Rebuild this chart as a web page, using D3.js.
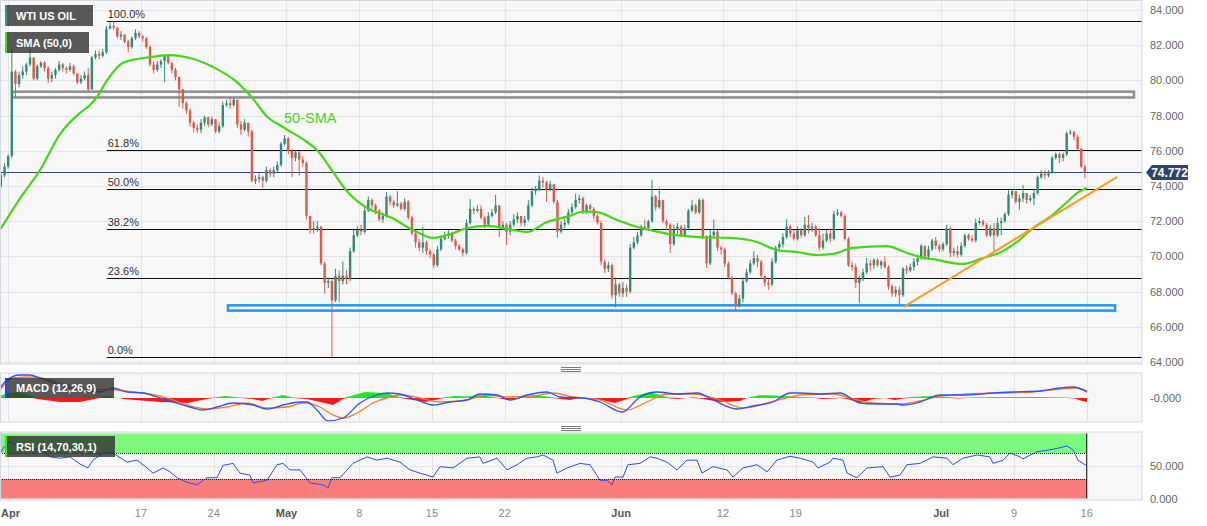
<!DOCTYPE html>
<html>
<head>
<meta charset="utf-8">
<title>WTI US OIL</title>
<script src="https://cdn.jsdelivr.net/npm/d3@7/dist/d3.min.js"></script>
<style>
  html, body { margin: 0; padding: 0; background: #ffffff; }
  svg { display: block; font-family: Arial, "Liberation Sans", Helvetica, sans-serif; }
</style>
</head>
<body>
<svg id="chart" width="1207" height="526"></svg>
<script>
// ================= DATA =================
const symbolName = "WTI US OIL";
const smaTitle = "SMA (50,0)";
const macdTitle = "MACD (12,26,9)";
const rsiTitle = "RSI (14,70,30,1)";
const smaLabel = "50-SMA";

// trading-day index (0 = Mon 3 Apr 2023, weekends removed)
const tickDays   = [-0.15, 9, 14, 19, 24, 29, 34, 42, 49, 54, 64, 69, 74];
const tickLabels = ["Apr", "17", "24", "May", "8", "15", "22", "Jun", "12", "19", "Jul", "9", "16"];
const monthLabels = ["Apr", "May", "Jun", "Jul"];

const priceTicks = [64, 66, 68, 70, 72, 74, 76, 78, 80, 82, 84];

// 6-hour candles, 4 per trading day, starting on day -1
const candlesPerDay = 4;
const firstCandleDay = -1;
const firstOpen = 73.7;
const closes = [
  74.0,74.6,75.1,75.7,
  80.5,79.8,80.3,80.5,  80.9,81.3,80.1,80.8,  81.0,80.7,80.1,80.3,  80.6,80.9,80.7,80.6,
  80.8,80.4,79.9,80.1,  80.3,79.5,81.3,81.5,  81.4,81.6,82.95,83.1, 83.0,82.5,82.6,82.2,  81.9,82.4,82.7,82.5,
  82.4,81.9,80.9,80.6,  80.9,81.1,81.4,81.0,  80.6,80.2,79.5,78.7,  78.3,77.6,77.3,77.2,  77.6,77.9,77.5,77.8,
  77.1,77.4,78.6,78.7,  78.6,78.9,77.5,77.2,  77.6,77.1,74.3,74.4,  74.5,74.3,74.9,74.7,  74.9,75.2,76.4,76.7,
  76.0,75.6,75.9,75.5,  75.3,72.3,71.5,71.6,  71.7,69.6,68.5,68.6,  67.5,68.9,68.6,68.9,  68.7,70.3,71.2,71.5,
  71.4,72.6,73.2,72.9,  72.6,72.1,72.3,73.4,  73.1,72.9,73.0,72.7,  73.1,72.2,71.3,70.8,  70.5,70.8,70.3,70.1,
  69.5,70.4,71.0,71.2,  71.3,70.9,70.6,70.4,  70.2,71.9,72.7,72.6,  72.7,72.2,71.8,72.3,  72.5,72.9,71.6,71.8,
  71.4,71.8,72.1,72.3,  71.9,72.1,72.9,73.7,  73.8,74.3,74.2,73.8,  74.1,73.1,71.4,71.8,  71.9,72.5,72.8,73.2,
  73.3,72.5,72.9,72.7,  72.3,71.9,69.7,69.3,  69.5,67.8,68.4,67.9,  68.2,68.0,70.5,70.8,  71.2,71.7,71.6,72.0,
  73.4,72.8,73.2,72.0,  71.8,70.7,71.5,71.7,  71.2,71.6,72.6,72.9,  72.5,73.2,71.1,69.6,  71.2,71.4,70.5,70.4,
  69.6,68.8,67.9,67.2,  67.6,68.6,69.1,69.6,  69.9,69.7,68.9,68.5,  68.4,69.7,70.5,70.7,  71.1,71.7,71.3,71.0,
  71.5,71.2,71.8,71.6,  71.7,71.2,70.5,70.9,  71.3,71.0,72.4,72.5,  72.3,71.0,69.5,69.4,  68.5,68.7,69.1,69.6,
  69.5,69.8,69.5,69.7,  69.4,68.3,67.9,68.1,  67.8,69.3,69.2,69.4,  69.7,69.9,70.6,70.0,  70.4,70.9,70.6,70.4,
  70.7,71.6,70.2,70.3,  70.1,70.6,71.2,71.0,  70.9,71.9,72.0,71.8,  71.2,71.6,71.2,71.9,  72.0,72.4,73.5,73.7,
  73.1,73.3,73.6,73.2,  73.3,73.6,74.5,74.7,  74.6,74.8,75.6,75.8,  75.6,75.8,77.0,77.05, 76.8,76.1,75.1,74.772
];
const highs = [
  74.2,74.8,75.3,75.8,
  81.8,80.6,80.5,80.8,  81.0,81.8,81.3,80.9,  81.1,81.1,80.8,80.5,  80.7,81.1,81.0,80.8,
  81.0,80.9,80.4,80.3,  80.5,80.7,81.4,81.7,  81.7,81.8,83.1,83.3,  83.35,83.05,82.8,82.6, 82.3,82.5,82.9,82.8,
  82.6,82.45,82.0,81.1, 81.1,81.2,81.5,81.5,  81.0,80.7,80.2,79.5,  78.8,78.4,77.7,77.5,  77.8,78.0,77.95,77.95,
  77.8,77.6,78.8,78.9,  79.05,79.0,78.9,77.7, 77.8,77.6,77.2,74.6,  74.7,74.6,75.1,75.0,  75.1,75.4,76.5,76.9,
  76.8,76.1,76.0,76.0,  75.7,75.4,72.3,72.0,  72.0,71.7,69.7,68.8,  68.7,69.3,69.2,69.7,  69.2,70.5,71.5,71.7,
  71.8,72.8,73.4,73.3,  73.0,72.7,72.5,73.65, 73.5,73.2,73.7,73.1,  73.3,73.2,72.3,71.4,  71.0,71.7,70.9,70.4,
  70.2,70.6,71.2,71.4,  71.5,71.4,71.0,70.7,  70.5,72.1,73.25,72.8, 72.9,72.9,72.3,72.5,  72.7,73.5,72.9,72.0,
  71.9,72.0,72.4,72.5,  72.3,72.3,73.2,73.9,  74.0,74.6,74.5,74.3,  74.3,74.1,73.2,72.0,  72.1,72.7,73.0,73.55,
  73.5,73.4,73.0,73.0,  72.8,72.4,72.0,69.8,  69.7,69.6,68.8,68.5,  68.55,68.4,70.7,71.1, 71.4,71.8,72.1,72.1,
  74.35,73.5,73.9,73.2, 72.1,71.9,71.8,71.9,  71.8,71.8,72.7,73.2,  73.0,73.3,73.3,71.2,  71.5,72.1,71.5,70.6,
  70.5,69.7,68.9,68.0,  67.8,68.8,69.3,69.8,  70.3,70.1,69.8,68.9,  68.7,69.9,70.6,70.9,  71.3,72.1,71.8,71.5,
  71.7,71.6,72.25,72.35, 71.9,71.8,71.6,71.3, 71.5,71.6,72.6,72.7,  72.6,72.4,71.1,69.7,  69.6,68.9,69.3,69.9,
  69.8,69.9,69.9,69.8,  70.0,69.5,68.4,68.3,  68.3,69.4,69.5,69.6,  69.9,70.1,70.7,70.6,  70.6,71.0,71.1,70.7,
  70.8,71.8,71.7,70.5,  70.6,70.8,71.3,71.3,  71.2,72.15,72.2,72.1, 71.9,71.8,71.9,72.2,  72.2,72.5,73.75,73.85,
  73.7,73.5,74.05,73.6, 73.5,73.8,74.6,74.9,  74.9,74.9,75.7,75.9,  75.9,75.9,77.1,77.2,  77.15,76.9,76.2,75.2
];
const lows = [
  73.6,73.9,74.5,75.0,
  75.6,79.05,79.6,80.1, 80.3,80.8,80.0,80.0,  80.7,80.5,79.85,79.9, 80.1,80.5,80.5,80.4,
  80.5,80.3,79.8,79.8,  80.0,79.4,79.45,81.2, 81.2,81.3,81.5,82.9,  82.85,82.4,82.3,82.1, 81.6,81.8,82.3,82.4,
  82.2,81.8,80.8,80.4,  80.5,80.7,79.9,80.9,  80.4,80.0,78.5,78.4,  78.1,77.4,77.05,77.0, 77.0,77.4,77.35,77.4,
  77.0,77.0,77.3,78.5,  78.4,78.5,77.3,76.9,  77.1,76.8,74.2,74.1,  74.2,73.9,74.2,74.5,  74.5,74.8,75.1,76.3,
  75.8,74.5,75.4,74.6,  75.1,72.1,71.3,71.3,  71.4,69.5,67.9,68.2,  64.25,67.4,67.4,68.4, 68.4,68.6,70.2,71.1,
  71.2,71.3,72.5,72.7,  72.4,72.0,71.9,72.2,  72.9,72.75,72.8,72.6, 72.6,72.1,71.2,70.5,  70.3,70.2,70.1,69.9,
  69.35,69.4,70.3,70.9, 71.0,70.8,70.4,70.3,  70.0,70.1,71.8,72.4,  72.5,72.1,71.6,71.7,  72.2,72.4,71.1,71.5,
  70.65,71.2,71.7,71.9, 71.7,71.7,72.0,72.8,  73.5,73.7,73.9,73.1,  73.7,73.0,71.05,71.3, 71.6,71.8,72.4,72.7,
  73.0,72.4,72.4,72.5,  72.1,71.8,69.5,69.05, 69.1,67.6,67.1,67.7,  67.7,67.7,67.9,70.4,  70.7,71.1,71.5,71.5,
  71.9,72.6,72.7,71.9,  71.6,70.2,70.6,71.3,  71.1,71.1,71.5,72.5,  72.4,72.4,71.0,69.35, 69.5,71.0,70.3,70.1,
  69.4,68.7,67.8,66.95, 67.1,67.4,68.5,69.0,  69.5,69.4,68.7,68.3,  68.1,68.3,69.6,70.4,  70.5,71.0,71.1,70.9,
  70.9,71.05,71.1,71.3, 71.4,71.1,70.35,70.4, 70.8,70.8,70.9,72.3,  72.2,70.9,69.4,69.2,  68.2,67.35,68.6,69.0,
  69.2,69.3,69.4,69.3,  69.3,68.1,67.7,67.7,  67.25,67.7,69.0,69.1, 69.2,69.5,69.8,69.8,  69.8,70.3,70.4,70.25,
  70.3,70.6,69.95,70.0, 69.95,70.0,70.5,70.9, 70.8,70.8,71.8,71.7,  71.1,71.1,70.25,71.1, 71.2,71.9,72.3,73.3,
  73.0,72.65,73.1,73.0, 73.1,72.9,73.5,74.4,  74.4,74.5,74.7,75.5,  75.3,75.4,75.7,76.9,  76.6,76.0,75.0,74.45
];

// 50-period SMA: [day, price]
const smaPoints = [
  [-0.69,71.5],[0.69,73.3],[2.06,74.9],[3.44,76.95],[4.81,78.15],[5.5,78.6],[5.98,79.06],[6.67,80.0],
  [7.77,81.0],[9.42,81.3],[11.0,81.44],[12.37,81.27],[13.95,80.76],[15.6,79.9],[16.7,78.95],[17.66,77.95],
  [18.76,77.35],[20.41,76.5],[21.1,76.05],[22.2,74.8],[23.16,73.7],[24.54,72.75],[26.12,72.24],[27.7,71.5],
  [29.07,71.05],[30.03,71.2],[31.41,71.6],[32.78,71.73],[34.57,71.5],[35.53,71.39],[36.91,71.95],[38.49,72.3],
  [39.38,72.55],[40.34,72.52],[41.72,72.07],[43.09,71.67],[43.99,71.5],[45.36,71.27],[47.42,71.1],[49.48,71.05],
  [51.34,70.82],[52.71,70.36],[54.09,70.25],[55.46,70.08],[56.56,70.14],[57.94,70.48],[60.27,70.58],[61.65,70.19],
  [62.54,69.97],[63.71,69.8],[64.81,69.62],[65.5,69.57],[66.87,69.9],[68.25,70.3],[69.21,70.82],[70.31,71.61],
  [71.48,72.24],[72.65,73.09],[73.33,73.6],[74.02,73.89]
];

// Fibonacci retracement between the April high and the May low
const fibHigh = 83.35;
const fibLow = 64.3;
const fibStartDay = 6.65;
const fibLevels = [100, 61.8, 50, 38.2, 23.6, 0];

// zones: [dayFrom, dayTo, priceLow, priceHigh]
const resistanceZone = [0.15, 77.25, 79.03, 79.36];
const supportZone = [14.98, 75.95, 66.92, 67.22];
// rising trend line: [day, price]
const trendLine = [[61.4, 67.12], [76.1, 74.52]];

// MACD (12,26,9): [day, value]
const macdPoints = [
  [-0.69,1.0],[-0.21,1.8],[0.69,2.3],[1.37,2.3],[2.06,2.0],[3.44,1.3],[4.81,0.8],[6.19,0.6],[7.08,1.0],[8.04,0.6],
  [9.14,0.5],[10.1,0.1],[11.2,-0.4],[12.37,-0.9],[13.26,-1.2],[14.23,-0.9],[15.33,-0.5],[16.7,-0.7],[17.66,-1.1],
  [18.76,-0.7],[19.93,-0.4],[20.41,-0.4],[21.1,-1.2],[21.86,-2.3],[22.89,-2.0],[24.05,-0.5],[25.22,0.3],[25.91,0.5],
  [26.8,0.4],[27.97,-0.2],[29.07,-0.7],[30.24,-0.4],[31.41,-0.2],[32.3,0.4],[33.47,0.3],[34.36,-0.2],[35.53,0.3],
  [36.91,0.6],[37.8,0.1],[39.38,0.0],[40.55,-0.4],[42.06,-1.4],[43.3,0.1],[44.47,0.6],[45.84,0.4],[47.22,0.5],
  [48.32,-0.2],[49.97,-1.1],[51.07,-0.8],[52.44,-0.4],[53.61,0.5],[54.3,0.5],[55.67,0.4],[57.04,0.5],[58.42,-0.5],
  [59.59,-0.6],[60.96,-0.6],[61.37,-0.7],[62.54,-0.4],[63.92,0.3],[65.77,0.3],[67.56,0.5],[68.93,0.6],[70.79,0.7],
  [72.16,1.0],[73.06,1.1],[74.02,0.6]
];
const signalPoints = [
  [-0.69,0.8],[0.21,2.0],[1.58,2.1],[2.75,1.8],[3.92,1.3],[5.7,0.9],[7.35,0.8],[8.45,0.6],[9.62,0.4],[10.79,0.0],
  [12.16,-0.7],[13.54,-1.1],[14.91,-0.9],[16.29,-0.5],[17.66,-1.0],[19.04,-0.9],[20.14,-0.5],[21.31,-0.9],[22.2,-1.7],
  [22.89,-2.0],[23.85,-1.5],[24.95,-0.5],[26.12,0.1],[26.8,0.3],[28.18,0.0],[29.55,-0.4],[31.41,-0.2],[32.78,0.3],
  [34.16,0.1],[35.95,0.2],[37.32,0.5],[38.69,0.1],[40.55,-0.2],[42.4,-1.2],[43.78,-0.4],[45.15,0.4],[46.94,0.4],
  [48.8,-0.2],[50.38,-1.0],[52.03,-0.5],[53.61,0.1],[54.3,0.3],[56.56,0.4],[57.94,-0.1],[59.31,-0.5],[61.17,-0.6],
  [62.54,-0.3],[63.92,0.2],[65.77,0.4],[68.04,0.5],[70.31,0.6],[72.16,0.9],[73.33,1.0],[74.02,0.7]
];
const histPoints = [
  [-0.69,0.2],[-0.21,0.5],[0.69,0.6],[1.58,0.1],[1.86,-0.1],[3.44,-0.4],[4.81,-0.4],[5.98,-0.05],[6.19,0.05],
  [6.67,0.2],[7.08,0.05],[7.56,0],[7.77,-0.1],[10.31,-0.4],[12.16,-0.5],[13.54,-0.1],[13.95,0.05],[14.78,0.2],
  [15.81,0.05],[16.7,-0.1],[17.32,-0.3],[17.87,-0.05],[18.08,0.05],[18.76,0.3],[19.45,0.05],[20.41,-0.1],
  [21.31,-0.4],[22.2,-0.7],[22.89,-0.1],[23.16,0.1],[24.4,0.6],[25.77,0.5],[26.8,0.1],[27.29,-0.1],[28.52,-0.4],
  [29.55,-0.1],[29.76,0.05],[30.58,0.2],[31.41,0.15],[32.3,0.3],[33.47,0.05],[33.68,-0.05],[34.23,-0.2],
  [34.85,-0.05],[35.05,0.05],[36.22,0.3],[37.32,0.05],[37.8,-0.1],[38.49,-0.2],[39.18,0],[40.34,-0.1],[41.58,-0.5],
  [42.4,-0.1],[42.61,0.1],[43.99,0.6],[45.15,0.1],[45.84,-0.1],[46.53,0],[46.94,0.1],[47.42,-0.05],[48.8,-0.4],
  [50.17,-0.3],[50.65,0],[51.55,0.3],[53.26,0.2],[54.3,0.1],[55.33,0.05],[55.81,-0.1],[56.56,-0.05],[57.04,0.05],
  [57.53,-0.1],[58.42,-0.5],[59.31,-0.1],[60.14,0],[60.82,-0.2],[61.37,-0.05],[61.86,0.1],[63.23,0.2],[64.6,0.1],
  [65.15,-0.05],[65.77,0.05],[68.04,0.1],[70.79,0.1],[72.65,0.05],[73.2,-0.05],[73.68,-0.3],[74.02,-0.4]
];

// RSI (14): [day, value]
const rsiPoints = [
  [-0.69,70],[-0.21,85],[0,87],[0.69,79],[1.37,75],[2.06,78],[2.75,64],[3.44,62],[4.12,64],[4.81,53],[5.36,47],
  [5.7,59],[6.39,70],[7.08,70],[8.04,56],[8.73,59],[9.42,47],[9.83,39],[10.52,47],[11.0,41],[11.48,32],[12.16,25],
  [12.85,21],[13.54,32],[14.23,32],[14.64,51],[15.33,54],[15.81,39],[16.49,36],[16.7,24],[17.66,28],[18.35,52],
  [18.76,54],[19.24,44],[19.93,44],[20.62,24],[21.51,21],[21.86,16],[22.13,32],[22.68,32],[23.57,54],[24.54,64],
  [25.22,59],[25.91,62],[26.8,56],[27.49,44],[28.18,39],[29.07,33],[29.55,49],[30.45,47],[31.41,62],[32.3,64],
  [32.51,54],[33.47,62],[34.16,44],[34.85,52],[35.53,62],[36.22,64],[36.63,67],[37.32,59],[37.59,39],[38.28,47],
  [39.18,54],[39.86,52],[40.55,28],[41.03,28],[41.37,21],[41.58,33],[42.13,33],[42.47,52],[43.3,54],[43.99,64],
  [44.47,62],[45.15,56],[45.84,44],[46.53,59],[47.22,59],[47.56,39],[48.32,49],[49.28,44],[49.69,33],[50.38,47],
  [51.34,52],[52.03,41],[52.71,59],[53.61,65],[54.3,62],[55.19,56],[55.53,47],[56.36,56],[56.56,62],[57.25,59],
  [57.53,39],[58.21,32],[58.9,47],[60.0,49],[60.48,33],[61.17,36],[61.65,52],[62.54,54],[63.44,64],[64.4,62],
  [64.81,52],[65.5,62],[66.46,67],[67.35,64],[67.56,54],[68.25,59],[68.73,70],[69.42,64],[69.62,61],[70.58,72],
  [71.48,75],[72.16,78],[72.65,81],[73.06,75],[73.4,59],[74.02,50]
];
const rsiUpper = 70;
const rsiLower = 30;
const rsiTicks = [0, 50];
const macdTicks = [0];

// ================= LAYOUT =================
const plotLeft = 0, plotRight = 1142;
const pricePanel = {top: 0.5, bottom: 364};
const macdPanel = {top: 373, bottom: 422};
const rsiPanel = {top: 432, bottom: 500};

const svg = d3.select("#chart");
const x = d3.scaleLinear().domain([0, 74]).range([10, 1086.7]);
const yP = d3.scaleLinear().domain([64, 84]).range([362, 10]);
const yM = d3.scaleLinear().domain([-2.4, 2.5]).range([422, 373]);
const yR = d3.scaleLinear().domain([0, 100]).range([498.5, 433.5]);

const defs = svg.append("defs");
function clip(id, p) {
  defs.append("clipPath").attr("id", id).append("rect")
    .attr("x", plotLeft).attr("y", p.top).attr("width", plotRight - plotLeft).attr("height", p.bottom - p.top);
}
clip("cp-price", pricePanel); clip("cp-macd", macdPanel); clip("cp-rsi", rsiPanel);

// panel backgrounds
[pricePanel, macdPanel, rsiPanel].forEach(p => {
  svg.append("rect").attr("x", plotLeft + 0.5).attr("y", p.top).attr("width", plotRight - plotLeft - 0.5)
    .attr("height", p.bottom - p.top).attr("fill", "#f7f7f7");
});

// grids
const gridColor = "#e4e4e4";
const gPrice = svg.append("g").attr("clip-path", "url(#cp-price)");
const gMacd = svg.append("g").attr("clip-path", "url(#cp-macd)");
const gRsi = svg.append("g").attr("clip-path", "url(#cp-rsi)");
[[gPrice, pricePanel], [gMacd, macdPanel], [gRsi, rsiPanel]].forEach(([g, p]) => {
  g.selectAll(null).data(tickDays).enter().append("line")
    .attr("x1", d => Math.round(x(d)) + 0.5).attr("x2", d => Math.round(x(d)) + 0.5)
    .attr("y1", p.top).attr("y2", p.bottom).attr("stroke", gridColor).attr("stroke-width", 1);
});
gPrice.selectAll(null).data(priceTicks).enter().append("line")
  .attr("x1", plotLeft).attr("x2", plotRight)
  .attr("y1", d => Math.round(yP(d)) + 0.5).attr("y2", d => Math.round(yP(d)) + 0.5)
  .attr("stroke", gridColor);
gRsi.append("line").attr("x1", plotLeft).attr("x2", plotRight)
  .attr("y1", Math.round(yR(50)) + 0.5).attr("y2", Math.round(yR(50)) + 0.5).attr("stroke", gridColor);

// ---- price panel ----
// zones
function zone(z, color) {
  gPrice.append("rect")
    .attr("x", x(z[0])).attr("y", yP(z[3]))
    .attr("width", x(z[1]) - x(z[0])).attr("height", yP(z[2]) - yP(z[3]))
    .attr("fill", "none").attr("stroke", color).attr("stroke-width", 2.5);
}
zone(resistanceZone, "#8e8e8e");
zone(supportZone, "#2196f3");

// fibonacci lines
const fibPrice = l => fibLow + (fibHigh - fibLow) * l / 100;
fibLevels.forEach(l => {
  const yy = Math.round(yP(fibPrice(l))) + 0.5;
  gPrice.append("line").attr("x1", x(fibStartDay)).attr("x2", plotRight)
    .attr("y1", yy).attr("y2", yy).attr("stroke", "#111").attr("stroke-width", 1.2);
  gPrice.append("text").attr("x", x(fibStartDay) + 1).attr("y", yy - 4)
    .attr("font-size", 11).attr("fill", "#333").text(l.toFixed(1) + "%");
});

// current price line
const lastClose = closes[closes.length - 1];
const yLast = Math.round(yP(lastClose)) + 0.5;
gPrice.append("line").attr("x1", plotLeft).attr("x2", plotRight).attr("y1", yLast).attr("y2", yLast)
  .attr("stroke", "#34496e").attr("stroke-width", 1);

// candles
const candles = closes.map((c, k) => ({
  t: firstCandleDay + Math.floor(k / candlesPerDay) + ((k % candlesPerDay) + 0.5) / candlesPerDay,
  o: k === 0 ? firstOpen : closes[k - 1],
  h: highs[k], l: lows[k], c: c
}));
const step = x(1) - x(0);
const bw = step / candlesPerDay * 0.66;
const upCol = "#328a77", dnCol = "#db5b4a";
const cg = gPrice.append("g");
cg.selectAll("line.wick").data(candles).enter().append("line")
  .attr("x1", d => x(d.t)).attr("x2", d => x(d.t))
  .attr("y1", d => yP(d.h)).attr("y2", d => yP(d.l))
  .attr("stroke", d => d.c >= d.o ? upCol : dnCol).attr("stroke-width", 1);
cg.selectAll("rect.body").data(candles).enter().append("rect")
  .attr("x", d => x(d.t) - bw / 2).attr("width", bw)
  .attr("y", d => yP(Math.max(d.o, d.c)))
  .attr("height", d => Math.max(1, Math.abs(yP(d.o) - yP(d.c))))
  .attr("fill", d => d.c >= d.o ? upCol : dnCol);

// SMA
gPrice.append("path").datum(smaPoints)
  .attr("d", d3.line().x(d => x(d[0])).y(d => yP(d[1])).curve(d3.curveMonotoneX))
  .attr("fill", "none").attr("stroke", "#45d619").attr("stroke-width", 2.2);
gPrice.append("text").attr("x", 284).attr("y", 123).attr("font-size", 14.5)
  .attr("fill", "#45d619").text(smaLabel);

// trend line
gPrice.append("line")
  .attr("x1", x(trendLine[0][0])).attr("y1", yP(trendLine[0][1]))
  .attr("x2", x(trendLine[1][0])).attr("y2", yP(trendLine[1][1]))
  .attr("stroke", "#ff9c1f").attr("stroke-width", 2);

// ---- MACD panel ----
const zeroY = yM(0);
gMacd.append("path").datum(histPoints)
  .attr("d", d3.area().x(d => x(d[0])).y0(zeroY).y1(d => yM(Math.max(0, d[1]))))
  .attr("fill", "#1ee81e");
gMacd.append("path").datum(histPoints)
  .attr("d", d3.area().x(d => x(d[0])).y0(zeroY).y1(d => yM(Math.min(0, d[1]))))
  .attr("fill", "#f41a1a");
gMacd.append("path").datum(signalPoints)
  .attr("d", d3.line().x(d => x(d[0])).y(d => yM(d[1])).curve(d3.curveMonotoneX))
  .attr("fill", "none").attr("stroke", "#ff7a22").attr("stroke-width", 1.3);
gMacd.append("path").datum(macdPoints)
  .attr("d", d3.line().x(d => x(d[0])).y(d => yM(d[1])).curve(d3.curveMonotoneX))
  .attr("fill", "none").attr("stroke", "#2d52f5").attr("stroke-width", 1.3);

// ---- RSI panel ----
const rsiEnd = x(74);
gRsi.append("rect").attr("x", plotLeft).attr("y", yR(100)).attr("width", rsiEnd - plotLeft)
  .attr("height", yR(rsiUpper) - yR(100)).attr("fill", "#7dfa7d");
gRsi.append("rect").attr("x", plotLeft).attr("y", yR(rsiLower)).attr("width", rsiEnd - plotLeft)
  .attr("height", yR(0) - yR(rsiLower)).attr("fill", "#fa7d7d");
[rsiUpper, rsiLower].forEach(v => {
  gRsi.append("line").attr("x1", plotLeft).attr("x2", rsiEnd)
    .attr("y1", Math.round(yR(v)) + 0.5).attr("y2", Math.round(yR(v)) + 0.5)
    .attr("stroke", "#222").attr("stroke-dasharray", "1,1");
});
gRsi.append("line").attr("x1", rsiEnd).attr("x2", rsiEnd).attr("y1", yR(100)).attr("y2", yR(0))
  .attr("stroke", "#111").attr("stroke-width", 1);
gRsi.append("line").attr("x1", 0.5).attr("x2", 0.5).attr("y1", yR(100)).attr("y2", yR(0))
  .attr("stroke", "#333").attr("stroke-width", 1);
gRsi.append("path").datum(rsiPoints)
  .attr("d", d3.line().x(d => x(d[0])).y(d => yR(d[1])))
  .attr("fill", "none").attr("stroke", "#2a4cf2").attr("stroke-width", 1);

// panel borders
[pricePanel, macdPanel, rsiPanel].forEach(p => {
  svg.append("rect").attr("x", plotLeft + 0.5).attr("y", p.top).attr("width", plotRight - plotLeft - 0.5)
    .attr("height", p.bottom - p.top).attr("fill", "none").attr("stroke", "#d3d7e1").attr("stroke-width", 1);
});

// ---- legend boxes ----
function legendBox(x0, y0, w, h, barColor, label) {
  svg.append("rect").attr("x", x0).attr("y", y0).attr("width", w).attr("height", h)
    .attr("fill", "rgb(48,48,48)").attr("fill-opacity", 0.8);
  svg.append("rect").attr("x", x0).attr("y", y0).attr("width", 2).attr("height", h).attr("fill", barColor);
  svg.append("text").attr("x", x0 + 11).attr("y", y0 + h / 2 + 4).attr("font-size", 11)
    .attr("font-weight", "bold").attr("fill", "#ffffff").text(label);
}
legendBox(5, 5, 88, 21, "#3a9683", symbolName);
legendBox(5, 32, 84, 21, "#3ee01c", smaTitle);
legendBox(5, 378, 109, 20, "#2244ff", macdTitle);
legendBox(5, 436, 110, 21, "#3ee01c", rsiTitle);

// ---- right axis ----
const axisColor = "#666";
priceTicks.forEach(p => {
  svg.append("text").attr("x", 1150).attr("y", yP(p) + 4).attr("font-size", 11)
    .attr("fill", axisColor).text(p.toFixed(3));
});
macdTicks.forEach(v => {
  svg.append("text").attr("x", 1150).attr("y", yM(v) + 4).attr("font-size", 11)
    .attr("fill", axisColor).text("-" + v.toFixed(3));
});
rsiTicks.forEach(v => {
  svg.append("text").attr("x", 1150).attr("y", yR(v) + 4).attr("font-size", 11)
    .attr("fill", axisColor).text(v.toFixed(3));
});

// current price badge
const by = yP(lastClose);
svg.append("path")
  .attr("d", `M1146,${by} L1152,${by - 7.5} L1188,${by - 7.5} L1188,${by + 7.5} L1152,${by + 7.5} Z`)
  .attr("fill", "#2f4468");
svg.append("text").attr("x", 1169.5).attr("y", by + 4.5).attr("text-anchor", "middle")
  .attr("font-size", 12).attr("font-weight", "bold").attr("fill", "#ffffff")
  .text(d3.format(".3f")(lastClose));

// ---- bottom axis ----
tickDays.forEach((d, i) => {
  const lab = tickLabels[i];
  const isMonth = monthLabels.includes(lab);
  const px = x(d);
  svg.append("text")
    .attr("x", i === 0 ? 1 : px).attr("y", 517)
    .attr("text-anchor", i === 0 ? "start" : "middle")
    .attr("font-size", 11).attr("font-weight", isMonth ? "bold" : "normal")
    .attr("fill", isMonth ? "#555" : "#888").text(lab);
});

// panel resize handles
[367, 426].forEach(y0 => {
  [0, 2, 4].forEach(o => {
    svg.append("line").attr("x1", 561).attr("x2", 581).attr("y1", y0 + o + 0.5).attr("y2", y0 + o + 0.5)
      .attr("stroke", "#7a7a7a").attr("stroke-width", 1);
  });
});
</script>
</body>
</html>
